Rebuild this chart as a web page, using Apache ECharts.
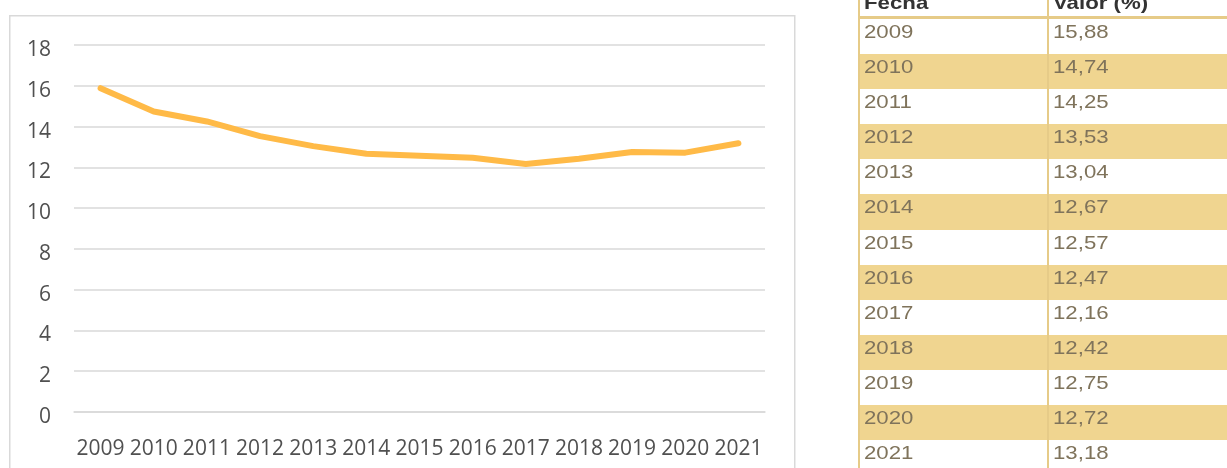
<!DOCTYPE html>
<html>
<head>
<meta charset="utf-8">
<script src="https://cdn.jsdelivr.net/npm/echarts@6/dist/echarts.min.js"></script>
<style>
  html, body { margin: 0; padding: 0; background: #fff; overflow: hidden; }
  #wrap { position: relative; width: 1227px; height: 468px; overflow: hidden; }
  #chart { position: absolute; left: 0; top: 0; width: 1227px; height: 468px; }
  #table { position: absolute; left: 858px; top: -27px; width: 420px; font-family: 'Liberation Sans', Arial, sans-serif; }
  .row { position: relative; height: 35.1px; box-sizing: border-box; border-left: 2px solid #E6CB88; }
  .row.head { height: 46px; border-bottom: 3px solid #E6CB88; }
  .row.alt { background: #F0D590; }
  .c1 { position: absolute; left: 0; top: 0; bottom: 0; width: 187px; border-right: 2px solid #E6CB88; }
  .c2 { position: absolute; left: 189px; top: 0; bottom: 0; right: 0; }
  .t { position: absolute; left: 4px; top: 3px; font-size: 17.8px; line-height: 20px; color: #7F735B; transform: scaleX(1.25); transform-origin: left center; white-space: nowrap; }
  .head .t { top: 20px; color: #333; font-weight: bold; }
</style>
</head>
<body>
<div id="wrap">
  <div id="chart"></div>
  <div id="table"></div>
</div>
<script>
const years = ['2009','2010','2011','2012','2013','2014','2015','2016','2017','2018','2019','2020','2021'];
const values = [15.88, 14.74, 14.25, 13.53, 13.04, 12.67, 12.57, 12.47, 12.16, 12.42, 12.75, 12.72, 13.18];
const tableHeader = ['Fecha', 'Valor (%)'];
const tableValues = ['15,88','14,74','14,25','13,53','13,04','12,67','12,57','12,47','12,16','12,42','12,75','12,72','13,18'];

const chart = echarts.init(document.getElementById('chart'), null, { renderer: 'canvas' });
const labelFont = "'Open Sans', 'Noto Sans', sans-serif";
chart.setOption({
  animation: false,
  graphic: [{
    type: 'rect', left: 9, top: 15, z: -1,
    shape: { width: 785, height: 470 },
    style: { fill: '#fff', stroke: '#D9D9D9', lineWidth: 1.5 }
  }],
  grid: { left: 74, right: 462, top: 45, bottom: 56, containLabel: false },
  xAxis: {
    type: 'category', data: years, boundaryGap: true,
    axisLine: { show: true, lineStyle: { color: '#D9D9D9', width: 1.5 } },
    axisTick: { show: false },
    axisLabel: { interval: 0, color: '#505050', fontFamily: labelFont, fontSize: 21, margin: 27 }
  },
  yAxis: {
    type: 'value', min: 0, max: 18, interval: 2,
    axisLine: { show: false }, axisTick: { show: false },
    splitLine: { lineStyle: { color: '#D9D9D9', width: 1.6 } },
    axisLabel: { color: '#505050', fontFamily: labelFont, fontSize: 21, margin: 23, verticalAlign: 'top', lineHeight: 10 }
  },
  series: [{
    type: 'line', data: values, symbol: 'none', smooth: false,
    lineStyle: { color: '#FFBA47', width: 6, cap: 'round', join: 'round' }
  }]
});

const tbl = document.getElementById('table');
function addRow(cls, a, b) {
  const r = document.createElement('div');
  r.className = 'row ' + cls;
  r.innerHTML = '<div class="c1"><span class="t"></span></div><div class="c2"><span class="t"></span></div>';
  const ts = r.querySelectorAll('.t');
  ts[0].textContent = a; ts[1].textContent = b;
  tbl.appendChild(r);
}
addRow('head', tableHeader[0], tableHeader[1]);
years.forEach((y, i) => addRow(i % 2 === 1 ? 'alt' : '', y, tableValues[i]));
</script>
</body>
</html>
